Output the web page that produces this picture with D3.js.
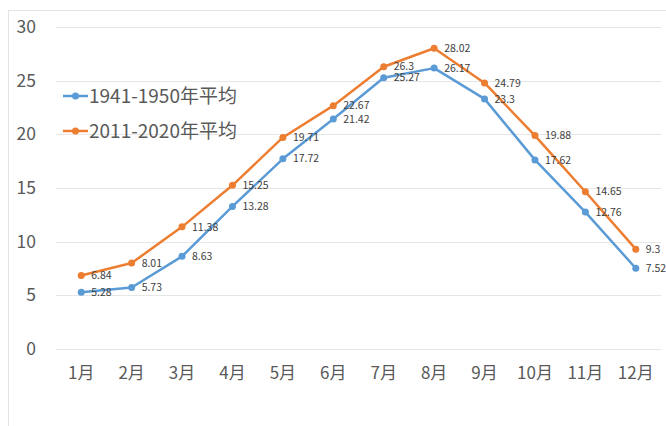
<!DOCTYPE html>
<html><head><meta charset="utf-8">
<script src="https://cdn.jsdelivr.net/npm/d3@7/dist/d3.min.js"></script>
<style>
html,body{margin:0;padding:0;background:#fff;}
svg{display:block;}
text{font-family:"Noto Sans CJK SC","Noto Sans",sans-serif;}
</style></head>
<body>
<svg id="chart" width="666" height="426"></svg>
<script>
const months = ["1月","2月","3月","4月","5月","6月","7月","8月","9月","10月","11月","12月"];
const series1Name = "1941-1950年平均";
const series2Name = "2011-2020年平均";
const series1 = [5.28,5.73,8.63,13.28,17.72,21.42,25.27,26.17,23.3,17.62,12.76,7.52];
const series2 = [6.84,8.01,11.38,15.25,19.71,22.67,26.3,28.02,24.79,19.88,14.65,9.3];
const yTicks = [0,5,10,15,20,25,30];

const svg = d3.select("#chart");
const W = 666, H = 426;
const m = {left:56, right:5, top:27, bottom:77};

// outer frame
svg.append("rect").attr("x",8.5).attr("y",10.5).attr("width",W+10).attr("height",H+10)
  .attr("fill","none").attr("stroke","#e3e3e3").attr("stroke-width",1);

const x = d3.scaleBand().domain(months).range([m.left, W-m.right]);
const y = d3.scaleLinear().domain([0,30]).range([H-m.bottom, m.top]);

// gridlines
svg.append("g").selectAll("line").data(yTicks).join("line")
  .attr("x1",m.left).attr("x2",W-m.right)
  .attr("y1",d=>Math.round(y(d))+0.5).attr("y2",d=>Math.round(y(d))+0.5)
  .attr("stroke","#e6e6e6").attr("stroke-width",1);

// y axis
const yAxis = d3.axisLeft(y).tickValues(yTicks).tickSize(0).tickPadding(0);
const gy = svg.append("g").attr("transform",`translate(36,0)`).call(yAxis);
gy.select(".domain").remove();
gy.selectAll("text").attr("font-size","17.5px").attr("fill","#595959")
  .attr("font-family","'Noto Sans','DejaVu Sans',sans-serif");

// x axis
const xAxis = d3.axisBottom(x).tickSize(0).tickPadding(0);
const gx = svg.append("g").attr("transform",`translate(0,${H-m.bottom+18})`).call(xAxis);
gx.select(".domain").remove();
gx.selectAll("text").attr("font-size","17px").attr("fill","#595959");

const cx = d => x(d) + x.bandwidth()/2;
const line = d3.line().x((d,i)=>cx(months[i])).y(d=>y(d));

const data = [
  {name:series1Name, values:series1, color:"#5B9BD5"},
  {name:series2Name, values:series2, color:"#ED7D31"}
];

data.forEach(s=>{
  svg.append("path").datum(s.values).attr("d",line)
    .attr("fill","none").attr("stroke",s.color).attr("stroke-width",2.5)
    .attr("stroke-linejoin","round");
  svg.append("g").selectAll("circle").data(s.values).join("circle")
    .attr("cx",(d,i)=>cx(months[i])).attr("cy",d=>y(d)).attr("r",3.5)
    .attr("fill",s.color);
});
data.forEach(s=>{
  svg.append("g").selectAll("text").data(s.values).join("text")
    .attr("x",(d,i)=>cx(months[i])+10).attr("y",d=>y(d))
    .attr("dy","0.35em").attr("font-size","10.5px").attr("fill","#404040")
    .attr("font-family","'Noto Sans','DejaVu Sans',sans-serif")
    .text(d=>d);
});

// legend
const leg = svg.append("g");
data.forEach((s,i)=>{
  const ly = 96 + i*35;
  leg.append("line").attr("x1",63).attr("x2",88).attr("y1",ly).attr("y2",ly)
    .attr("stroke",s.color).attr("stroke-width",2.5);
  leg.append("circle").attr("cx",75.5).attr("cy",ly).attr("r",3.5).attr("fill",s.color);
  leg.append("text").attr("x",89).attr("y",ly).attr("dy","0.36em")
    .attr("font-size","19px").attr("fill","#595959").text(s.name);
});
</script>
</body></html>
